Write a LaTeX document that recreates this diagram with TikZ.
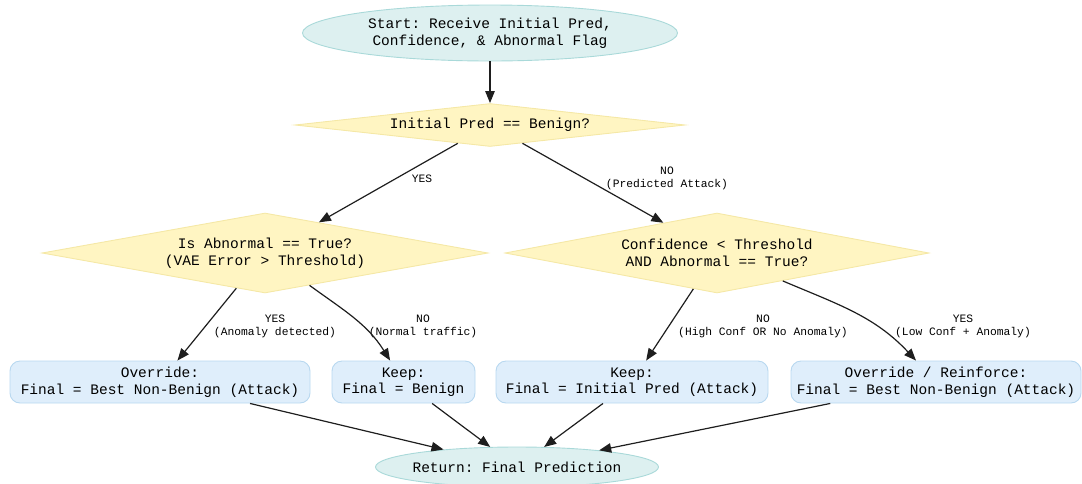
\documentclass[tikz,border=0pt]{standalone}
\usepackage{fontspec}
\setmonofont{Liberation Mono}
\usetikzlibrary{shapes.geometric,arrows.meta}
\definecolor{ellfill}{HTML}{DDF0F0}
\definecolor{elldraw}{HTML}{A9D9D9}
\definecolor{diafill}{HTML}{FFF5C2}
\definecolor{diadraw}{HTML}{F5E8A6}
\definecolor{boxfill}{HTML}{DFEEFB}
\definecolor{boxdraw}{HTML}{B8D8F0}
\definecolor{edgecol}{HTML}{1E1E1E}
\tikzset{
  x=1pt, y=1pt,
  txt/.style={font=\fontsize{14.5}{16.5}\selectfont\ttfamily, align=center, inner sep=0pt},
  ellnode/.style={txt, ellipse, fill=ellfill, draw=elldraw, line width=0.9pt},
  dianode/.style={txt, diamond, fill=diafill, draw=diadraw, line width=0.9pt},
  boxnode/.style={txt, rectangle, rounded corners=10pt, fill=boxfill, draw=boxdraw, line width=0.9pt, minimum height=42pt},
  lbl/.style={font=\fontsize{11.3}{13}\selectfont\ttfamily, align=center, inner sep=0pt},
  edge/.style={draw=edgecol, line width=1.2pt, -{Triangle[length=12pt,width=9.5pt]}},
}
\begin{document}
\begin{tikzpicture}
\useasboundingbox (0,0) rectangle (1082,-483);
% nodes
\node[ellnode, minimum width=375pt, minimum height=56pt] (start) at (490,-33)
  {Start: Receive Initial Pred,\\Confidence, \& Abnormal Flag};
\node[dianode, shape aspect=9.07, minimum width=390pt, minimum height=43pt] (d1) at (490,-125)
  {Initial Pred == Benign?};
\node[dianode, shape aspect=5.575, minimum width=446pt, minimum height=80pt] (d2) at (265,-253)
  {Is Abnormal == True?\\(VAE Error > Threshold)};
\node[dianode, shape aspect=5.3, minimum width=424pt, minimum height=80pt] (d3) at (717,-253)
  {Confidence < Threshold\\AND Abnormal == True?};
\node[boxnode, minimum width=300pt] (b1) at (160,-382)
  {Override:\\Final = Best Non-Benign (Attack)};
\node[boxnode, minimum width=143pt] (b2) at (403.5,-382)
  {Keep:\\Final = Benign};
\node[boxnode, minimum width=272pt] (b3) at (632,-382)
  {Keep:\\Final = Initial Pred (Attack)};
\node[boxnode, minimum width=290pt] (b4) at (936,-382)
  {Override / Reinforce:\\Final = Best Non-Benign (Attack)};
\node[ellnode, inner xsep=-6pt, minimum width=283pt, minimum height=40pt] (ret) at (517,-467)
  {Return: Final Prediction};
% labels
\node[lbl] (l1) at (422,-179) {YES};
\node[lbl] (l2) at (667,-178) {NO\\(Predicted Attack)};
\node[lbl] (l3) at (275,-326) {YES\\(Anomaly detected)};
\node[lbl] (l4) at (423,-326) {NO\\(Normal traffic)};
\node[lbl] (l5) at (763,-326) {NO\\(High Conf OR No Anomaly)};
\node[lbl] (l6) at (963,-326) {YES\\(Low Conf + Anomaly)};
% edges
\draw[edge] (start) -- (d1);
\draw[edge] (d1) -- (d2);
\draw[edge] (d1) -- (d3);
\draw[edge] (d2) -- (b1);
\draw[edge] (d2) to[out=-36, in=122] (b2);
\draw[edge] (d3) -- (b3);
\draw[edge] (d3) to[out=-23, in=133] (b4);
\draw[edge] (b1) -- (ret);
\draw[edge] (b2) -- (ret);
\draw[edge] (b3) -- (ret);
\draw[edge] (b4) -- (ret);
\end{tikzpicture}
\end{document}
